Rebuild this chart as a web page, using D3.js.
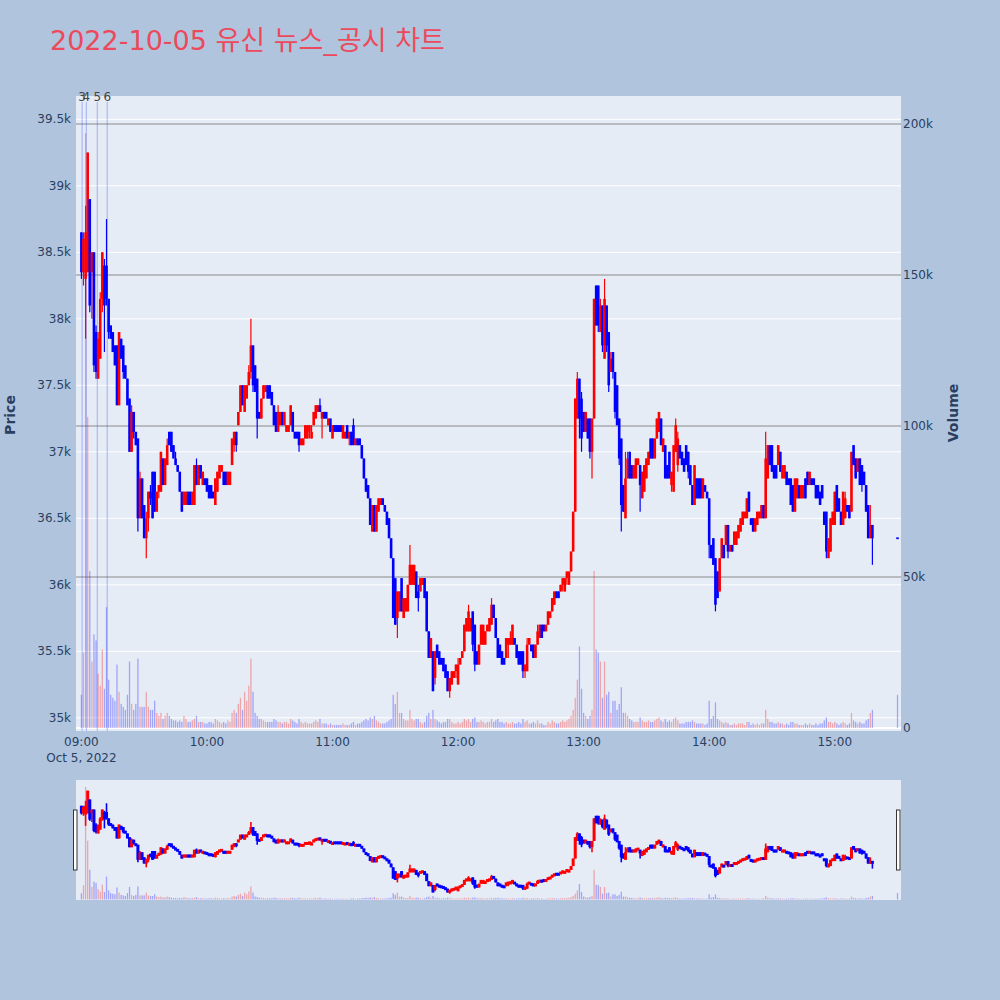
<!DOCTYPE html>
<html><head><meta charset="utf-8">
<script src="https://cdn.jsdelivr.net/npm/d3@7"></script>
<style>body{margin:0;background:#b0c4de;} svg{display:block;font-family:"DejaVu Sans","Noto Sans CJK KR",sans-serif;}</style>
</head><body><svg id="c" width="1000" height="1000"></svg>
<script>
const titleText = "2022-10-05 유신 뉴스_공시 차트";
const sessionStart = [2022, 9, 5, 9, 0]; // 09:00, one candle per minute
const open = [
38650,38350,38300,38350,38900,38350,38500,37900,37550,37700,
38150,38400,38400,38150,37950,37900,37800,37800,37350,37850,
37800,37650,37550,37400,37000,37300,37150,37100,36500,36800,
36600,36350,36500,36700,36850,36850,36550,36700,36700,36950,
36750,36900,37150,37150,37050,36950,36900,36850,36700,36600,
36600,36700,36700,36600,36600,36900,36750,36900,36750,36800,
36800,36750,36750,36700,36600,36700,36800,36850,36850,36850,
36750,36750,36900,37050,37150,37200,37300,37500,37300,37400,
37500,37600,37800,37650,37550,37300,37250,37400,37450,37500,
37500,37450,37350,37300,37150,37200,37300,37200,37150,37150,
37200,37300,37150,37150,37150,37050,37050,37100,37100,37150,
37100,37200,37250,37300,37350,37250,37300,37300,37200,37250,
37100,37200,37200,37200,37200,37100,37100,37200,37100,37150,
37200,37050,37100,37100,37050,36950,36800,36750,36650,36400,
36600,36400,36550,36600,36650,36600,36550,36500,36350,36200,
36050,35750,35800,36050,35750,35800,35800,36000,36000,36000,
36100,35950,35950,36000,36050,35950,35650,35450,35500,35300,
35550,35500,35450,35450,35400,35350,35200,35250,35300,35350,
35250,35400,35450,35500,35650,35650,35650,35800,35700,35500,
35400,35550,35550,35550,35650,35650,35700,35850,35750,35600,
35550,35500,35450,35450,35550,35550,35550,35600,35550,35500,
35500,35500,35350,35350,35550,35550,35550,35450,35550,35600,
35700,35700,35650,35700,35750,35800,35850,35950,35950,35950,
36000,35950,36050,36000,36100,36250,36550,37250,37550,37400,
37300,37150,37250,37250,37000,37250,38250,38250,37900,38100,
37700,38100,37900,37600,37750,37600,37500,37250,37100,36750,
36500,36800,37000,36900,36800,36800,36900,36900,36650,36700,
36800,36900,37100,37100,36950,37100,37150,37250,37000,37050,
36900,37000,36750,36700,37000,36900,37050,37000,36950,37050,
37000,36900,36750,36600,36800,36800,36800,36650,36750,36700,
36650,36300,36350,36200,36100,35950,36200,36300,36300,36450,
36250,36300,36300,36300,36350,36400,36450,36500,36500,36700,
36500,36500,36400,36450,36500,36500,36600,36500,36800,37050,
37050,36900,36900,36900,37000,36800,36800,36850,36800,36800,
36750,36550,36650,36750,36650,36650,36800,36850,36750,36800,
36800,36750,36750,36700,36750,36550,36550,36200,36250,36450,
36450,36750,36650,36550,36450,36500,36600,36600,36550,37050,
36950,36850,36950,36900,36850,36750,36600,36350,36450,null,
null,null,null,null,null,null,null,null,null,null,
36350];
const high = [
38650,38650,38850,39250,38900,38500,38500,37950,37900,38200,
38500,38450,38750,38150,37950,37900,37800,37800,37900,37850,
37800,37650,37550,37400,37350,37300,37150,37100,36850,36800,
36600,36550,36700,36750,36850,36850,36700,36750,37000,36950,
36950,37100,37150,37150,37050,37000,36900,36850,36700,36700,
36700,36700,36700,36700,36900,36950,36900,36900,36850,36800,
36800,36750,36750,36700,36800,36850,36900,36900,36850,36850,
36850,36850,37100,37150,37150,37300,37500,37500,37500,37500,
37650,38000,37800,37650,37550,37300,37400,37500,37500,37500,
37500,37450,37350,37300,37350,37300,37300,37300,37200,37200,
37350,37300,37150,37150,37150,37100,37100,37200,37200,37200,
37200,37300,37350,37350,37400,37300,37300,37300,37250,37250,
37200,37200,37200,37200,37200,37200,37150,37200,37150,37150,
37250,37100,37100,37100,37050,36950,36800,36750,36650,36600,
36600,36600,36650,36650,36650,36600,36550,36500,36350,36200,
36050,35950,35950,36050,35900,35900,36000,36300,36150,36150,
36100,36000,36050,36050,36050,35950,35650,35600,35500,35500,
35550,35500,35450,35450,35400,35350,35300,35350,35350,35400,
35450,35450,35500,35700,35750,35850,35750,35800,35700,35500,
35550,35700,35700,35650,35700,35750,35900,35850,35750,35600,
35550,35500,35450,35600,35600,35650,35700,35600,35550,35500,
35500,35500,35400,35600,35600,35550,35550,35550,35700,35700,
35700,35700,35700,35800,35800,35900,35950,35950,35950,36000,
36050,36050,36100,36100,36250,36550,37400,37600,37550,37450,
37300,37300,37250,37250,37250,38150,38250,38250,38150,38100,
38300,38100,37900,37750,37750,37600,37500,37250,37100,36750,
37000,37000,37000,36900,36900,36950,36950,36900,36850,36900,
36950,37000,37100,37100,37100,37250,37300,37250,37100,37050,
36900,37000,36850,37050,37250,37150,37050,37000,36950,37050,
37000,36900,36750,36900,36800,36800,36800,36800,36750,36700,
36650,36300,36350,36200,36100,36200,36350,36300,36450,36450,
36300,36300,36400,36400,36450,36500,36550,36550,36650,36700,
36500,36500,36500,36550,36550,36600,36600,37150,37050,37050,
37050,36900,36900,37050,37000,36900,36900,36850,36800,36800,
36750,36800,36800,36750,36750,36750,36800,36850,36850,36800,
36800,36750,36750,36700,36750,36550,36550,36350,36500,36550,
36700,36750,36650,36550,36700,36700,36600,36600,37000,37050,
36950,36950,36950,36900,36850,36750,36600,36600,36450,null,
null,null,null,null,null,null,null,null,null,null,
36350];
const low = [
38300,38250,37850,38350,38050,38000,37600,37550,37550,37700,
38050,37750,38100,37850,37850,37750,37650,37350,37350,37700,
37550,37550,37350,37000,37000,37100,37050,36400,36500,36500,
36350,36200,36400,36600,36500,36550,36550,36650,36700,36750,
36750,36900,37050,37000,36950,36900,36850,36700,36550,36600,
36600,36600,36600,36600,36600,36750,36750,36800,36750,36750,
36700,36650,36650,36650,36600,36700,36800,36850,36750,36750,
36750,36750,36900,37000,37000,37200,37300,37350,37300,37400,
37500,37550,37450,37450,37100,37250,37250,37400,37450,37400,
37400,37350,37200,37150,37150,37200,37200,37200,37150,37150,
37200,37150,37100,37100,37000,37050,37050,37100,37100,37100,
37100,37200,37250,37300,37300,37100,37250,37250,37200,37150,
37100,37150,37150,37150,37150,37100,37100,37100,37050,37050,
37050,37050,37050,37050,36950,36800,36700,36650,36450,36400,
36400,36400,36550,36600,36600,36550,36450,36350,36200,35750,
35700,35600,35800,35800,35750,35800,35800,36000,36000,36000,
35900,35800,35950,36000,35900,35650,35450,35450,35200,35250,
35450,35400,35400,35350,35300,35200,35150,35250,35300,35300,
35250,35400,35450,35500,35650,35650,35650,35500,35350,35400,
35400,35550,35550,35550,35650,35650,35700,35750,35600,35450,
35450,35400,35400,35450,35450,35550,35550,35550,35450,35400,
35400,35300,35300,35350,35550,35500,35450,35450,35550,35600,
35600,35650,35650,35700,35750,35800,35850,35900,35900,35950,
35950,35950,36000,36000,36100,36250,36550,37250,37100,37000,
37150,37150,37100,36950,36800,37250,37950,37900,37900,37750,
37700,37750,37450,37600,37550,37250,37200,36900,36400,36550,
36500,36800,36800,36800,36800,36800,36900,36550,36650,36700,
36800,36900,36950,36950,36950,37100,37150,37050,37000,36800,
36800,36800,36700,36700,37000,36850,36950,36900,36850,36900,
36800,36750,36600,36600,36650,36650,36650,36650,36700,36650,
36200,36200,36150,35800,35900,35950,36200,36200,36300,36200,
36250,36250,36300,36300,36350,36400,36450,36500,36500,36550,
36450,36400,36400,36450,36500,36500,36500,36500,36800,36900,
36850,36800,36800,36900,36850,36800,36800,36750,36750,36600,
36550,36550,36650,36650,36650,36650,36650,36750,36750,36750,
36750,36650,36650,36600,36650,36450,36200,36200,36250,36450,
36450,36550,36550,36450,36450,36500,36550,36500,36550,36900,
36800,36850,36750,36700,36750,36550,36350,36350,36150,null,
null,null,null,null,null,null,null,null,null,null,
36350];
const close = [
38350,38600,38650,39250,38100,38500,37650,37600,37850,38150,
38500,38100,38150,37900,37850,37750,37650,37350,37900,37700,
37600,37550,37350,37000,37300,37150,37050,36500,36800,36500,
36350,36500,36700,36650,36500,36550,36700,36750,37000,36750,
36950,37050,37050,37000,36950,36900,36850,36700,36550,36700,
36700,36600,36600,36700,36900,36750,36900,36800,36850,36750,
36700,36650,36650,36650,36800,36850,36900,36900,36750,36750,
36850,36850,37100,37150,37050,37300,37500,37350,37500,37500,
37600,37800,37500,37450,37250,37250,37400,37500,37500,37400,
37400,37350,37200,37150,37300,37300,37200,37300,37200,37200,
37350,37150,37100,37100,37050,37100,37100,37200,37200,37200,
37150,37300,37350,37350,37300,37300,37250,37250,37250,37150,
37200,37150,37150,37150,37150,37200,37150,37100,37150,37050,
37050,37100,37050,37050,36950,36800,36700,36650,36450,36600,
36400,36600,36650,36650,36600,36550,36450,36350,36200,35750,
35700,35950,35950,35800,35900,35900,36000,36150,36150,36150,
35900,35900,36050,36050,35900,35650,35450,35600,35200,35500,
35450,35400,35400,35350,35300,35200,35300,35350,35350,35400,
35400,35450,35500,35700,35750,35800,35750,35550,35400,35400,
35550,35700,35700,35650,35700,35750,35850,35750,35600,35450,
35450,35400,35400,35600,35600,35600,35700,35550,35450,35400,
35400,35350,35400,35550,35600,35500,35450,35550,35650,35700,
35600,35650,35700,35800,35800,35900,35950,35900,35900,36000,
36050,36050,36100,36100,36250,36550,37400,37550,37250,37100,
37150,37300,37100,37000,37250,38150,37950,37950,38100,37800,
38150,37800,37500,37700,37600,37300,37200,36950,36600,36550,
36800,36950,36800,36800,36900,36950,36950,36750,36850,36900,
36950,37000,36950,36950,37100,37250,37300,37050,37100,36800,
36800,36800,36850,37050,37200,37100,36950,36900,36850,36900,
36850,36750,36600,36900,36650,36650,36650,36800,36700,36650,
36300,36200,36150,35850,35900,36200,36350,36200,36450,36250,
36300,36250,36400,36400,36450,36500,36550,36550,36650,36550,
36450,36400,36500,36550,36550,36600,36500,36950,37050,36900,
36850,36800,36800,37050,36850,36900,36900,36750,36750,36600,
36550,36800,36800,36650,36750,36750,36650,36750,36850,36750,
36750,36650,36650,36600,36650,36450,36250,36350,36500,36550,
36700,36550,36550,36450,36700,36650,36550,36500,37000,36900,
36800,36950,36750,36750,36750,36550,36350,36450,36350,null,
null,null,null,null,null,null,null,null,null,null,
36350];
const volume = [
11000,25000,197000,103000,52000,22000,31000,29000,18000,14000,
26000,13000,40000,16000,11000,10000,9000,21000,12000,8000,
7000,6000,11000,22000,8000,6000,8000,23000,7000,7000,
7000,12000,7000,6000,6000,9000,5000,4000,5000,3000,
4000,5000,4000,3000,2500,2500,2000,2500,2000,4000,
3000,2000,2000,2500,3000,4000,2000,2000,2000,1500,
1500,2000,2000,1500,3000,2500,2000,1500,2000,1500,
2500,2000,5000,6000,5000,8000,10000,6000,12000,9000,
14000,23000,12000,5000,4000,3000,3000,2500,2000,2000,
2000,2000,3000,2500,2000,2000,1500,2000,2000,1500,
3000,2500,2000,1500,3000,2000,1500,2000,1500,1500,
1500,2000,2500,2000,3000,1500,1500,1500,1000,1500,
1000,1000,1000,1000,1000,1500,1000,1000,1000,1500,
2000,1000,1500,1500,2000,2500,3000,2500,3500,3000,
4000,2500,2000,1500,1500,1500,2000,2500,3000,11000,
8000,12000,5000,5000,3000,2500,2500,6000,3000,2500,
3000,3000,2000,1500,2000,4000,5000,3000,6000,3000,
2500,2000,1500,2000,2000,3000,3000,2000,1500,1500,
2000,1500,2000,3000,2500,3000,2000,3000,3500,2000,
2000,2500,2000,1500,2000,2000,3000,2000,2500,3000,
2000,2000,1500,2000,1500,1500,2000,1500,1500,2000,
1500,3000,2000,2500,1500,1500,2000,1500,2500,1500,
1500,1000,1000,2000,1500,2500,2000,1500,1500,2000,
2500,2000,2500,3000,4000,6000,10000,16000,27000,13000,
5000,4000,3000,4000,6000,52000,26000,25000,22000,10000,
22000,11000,12000,5000,9000,9000,6000,8000,13500,5000,
5000,4000,3000,2500,2000,2000,2000,3500,2500,2000,
2000,2500,2000,2000,2500,3000,3500,2500,2000,3000,
2000,2500,2000,3000,3500,2500,1500,1500,1500,2000,
2000,2000,2500,2000,1500,1500,1500,1500,1000,1500,
9000,3000,4000,8500,3000,2500,2000,1500,2000,1500,
1000,1000,1500,1000,1500,1500,1500,1000,2000,2000,
1000,1500,1000,1500,1000,1500,1500,6000,3000,2000,
2000,1500,1500,2000,1500,1500,1000,1500,1000,2000,
2000,1500,1500,1000,1000,1000,1500,1000,1500,1000,
1000,1500,1000,1500,1500,2500,3500,2000,2000,1500,
2000,1500,1000,1500,2000,1500,1000,1500,5000,2500,
2000,1500,2000,1500,1500,2500,3000,5000,6000,null,
null,null,null,null,null,null,null,null,null,null,
11000];
const newsLabels = ["3", "4", "5", "6"];
const newsTimes = ["09:00:20", "09:02:20", "09:07:35", "09:12:20"];
const priceTicks = [35000, 35500, 36000, 36500, 37000, 37500, 38000, 38500, 39000, 39500];
const volumeTicks = [0, 50000, 100000, 150000, 200000];
const timeTicks = ["09:00", "10:00", "11:00", "12:00", "13:00", "14:00", "15:00"];

const UP = "#ff0000", DOWN = "#0000ff";
const TXT = "#2a3f5f";
const svg = d3.select("#c");
const P = {l: 76, r: 901, t: 96, b: 731};
const S = {t: 780, b: 900};

function at(hms) {
  const [h, m, s] = hms.split(":").map(Number);
  return new Date(2022, 9, 5, h, m, s || 0);
}
const base = new Date(...sessionStart);
const bars = open.map((o, i) => ({
  t: new Date(base.getTime() + i * 60000),
  o, h: high[i], l: low[i], c: close[i], v: volume[i]
})).filter(d => d.o != null);

const x = d3.scaleTime().domain([at("08:57:25"), at("15:31:40")]).range([P.l, P.r]);
const yP = d3.scaleLinear().domain([35000, 39500]).range([717.8, 119.3]);
const yV = d3.scaleLinear().domain([0, 200000]).range([728, 124]);
const ySP = d3.scaleLinear().domain([yP.invert(P.b), yP.invert(P.t)]).range([S.b, S.t]);
const ySV = d3.scaleLinear().domain([yV.invert(P.b), yV.invert(P.t)]).range([S.b, S.t]);

svg.append("text").attr("x", 50).attr("y", 50).attr("font-size", 27)
  .attr("fill", "#ec4a5c").text(titleText);

const defs = svg.append("defs");
defs.append("clipPath").attr("id", "pc").append("rect")
  .attr("x", P.l).attr("y", P.t).attr("width", P.r - P.l).attr("height", P.b - P.t);
defs.append("clipPath").attr("id", "sc").append("rect")
  .attr("x", P.l).attr("y", S.t).attr("width", P.r - P.l).attr("height", S.b - S.t);

svg.append("rect").attr("x", P.l).attr("y", P.t).attr("width", P.r - P.l).attr("height", P.b - P.t).attr("fill", "#e5ecf6");

const g = svg.append("g").attr("clip-path", "url(#pc)");
g.selectAll(".pg").data(priceTicks).join("line")
  .attr("x1", P.l).attr("x2", P.r).attr("y1", d => yP(d)).attr("y2", d => yP(d))
  .attr("stroke", "#fff").attr("stroke-width", 1);
g.selectAll(".vg").data(volumeTicks.filter(v => v > 0)).join("line")
  .attr("x1", P.l).attr("x2", P.r).attr("y1", d => yV(d)).attr("y2", d => yV(d))
  .attr("stroke", "#8a8a8a").attr("stroke-width", 1);
g.append("line").attr("x1", P.l).attr("x2", P.r).attr("y1", yV(0)).attr("y2", yV(0))
  .attr("stroke", "#fff").attr("stroke-width", 2);

const col = d => d.c > d.o ? UP : DOWN;

function drawVolume(layer, yv, volW) {
  layer.append("g").selectAll("rect").data(bars).join("rect")
    .attr("x", d => x(d.t) - volW / 2).attr("width", volW)
    .attr("y", d => yv(d.v)).attr("height", d => Math.max(0, yv(0) - yv(d.v)))
    .attr("fill", col).attr("fill-opacity", 0.3);
}
function drawCandles(layer, ys, bodyW, wickW, minH) {
  const cg = layer.append("g");
  cg.selectAll("line").data(bars).join("line")
    .attr("x1", d => x(d.t)).attr("x2", d => x(d.t))
    .attr("y1", d => ys(d.h)).attr("y2", d => ys(d.l))
    .attr("stroke", col).attr("stroke-width", wickW);
  cg.selectAll("rect").data(bars).join("rect")
    .attr("x", d => x(d.t) - bodyW / 2).attr("width", bodyW)
    .attr("y", d => {
      const a = Math.min(ys(d.o), ys(d.c)), hgt = Math.abs(ys(d.o) - ys(d.c));
      return hgt < minH ? a - (minH - hgt) / 2 : a;
    })
    .attr("height", d => Math.max(minH, Math.abs(ys(d.o) - ys(d.c))))
    .attr("fill", col);
}

drawVolume(g, yV, 1.3);

const news = newsLabels.map((lab, i) => ({lab, t: at(newsTimes[i])}));
g.selectAll(".nl").data(news).join("line")
  .attr("x1", d => x(d.t)).attr("x2", d => x(d.t)).attr("y1", 102).attr("y2", P.b)
  .attr("stroke", "rgba(30,60,255,0.35)").attr("stroke-width", 1);

drawCandles(g, yP, 2.6, 1.2, 1.8);

svg.selectAll(".nt").data(news).join("text")
  .attr("x", d => x(d.t)).attr("y", 101).attr("text-anchor", "middle")
  .attr("font-size", 12).attr("fill", "#444").text(d => d.lab);

const fmtK = d3.format("~s");
svg.selectAll(".yl").data(priceTicks).join("text")
  .attr("x", 71).attr("y", d => yP(d) + 4).attr("text-anchor", "end")
  .attr("font-size", 12).attr("fill", TXT).text(d => fmtK(d));
svg.selectAll(".yr").data(volumeTicks).join("text")
  .attr("x", 903).attr("y", d => yV(d) + 4).attr("text-anchor", "start")
  .attr("font-size", 12).attr("fill", TXT).text(d => fmtK(d));
const fmtT = d3.timeFormat("%H:%M");
svg.selectAll(".xl").data(timeTicks).join("text")
  .attr("x", d => x(at(d))).attr("y", 746).attr("text-anchor", "middle")
  .attr("font-size", 12).attr("fill", TXT).text(d => fmtT(at(d)));
svg.append("text").attr("x", x(at(timeTicks[0]))).attr("y", 762).attr("text-anchor", "middle")
  .attr("font-size", 12).attr("fill", TXT).text(d3.timeFormat("%b %-d, %Y")(base));

svg.append("text").attr("transform", "translate(15,415) rotate(-90)").attr("text-anchor", "middle")
  .attr("font-size", 14).attr("font-weight", "bold").attr("fill", TXT).text("Price");
svg.append("text").attr("transform", "translate(958,413) rotate(-90)").attr("text-anchor", "middle")
  .attr("font-size", 14).attr("font-weight", "bold").attr("fill", TXT).text("Volume");

svg.append("rect").attr("x", P.l).attr("y", S.t).attr("width", P.r - P.l).attr("height", S.b - S.t).attr("fill", "#e5ecf6");
const sg = svg.append("g").attr("clip-path", "url(#sc)");
drawVolume(sg, ySV, 1.3);
drawCandles(sg, ySP, 3, 1.6, 3);
[73.5, 896.5].forEach(hx => {
  svg.append("rect").attr("x", hx).attr("y", 810).attr("width", 3.5).attr("height", 60)
    .attr("fill", "#fff").attr("stroke", "#333").attr("stroke-width", 1);
});
</script></body></html>
